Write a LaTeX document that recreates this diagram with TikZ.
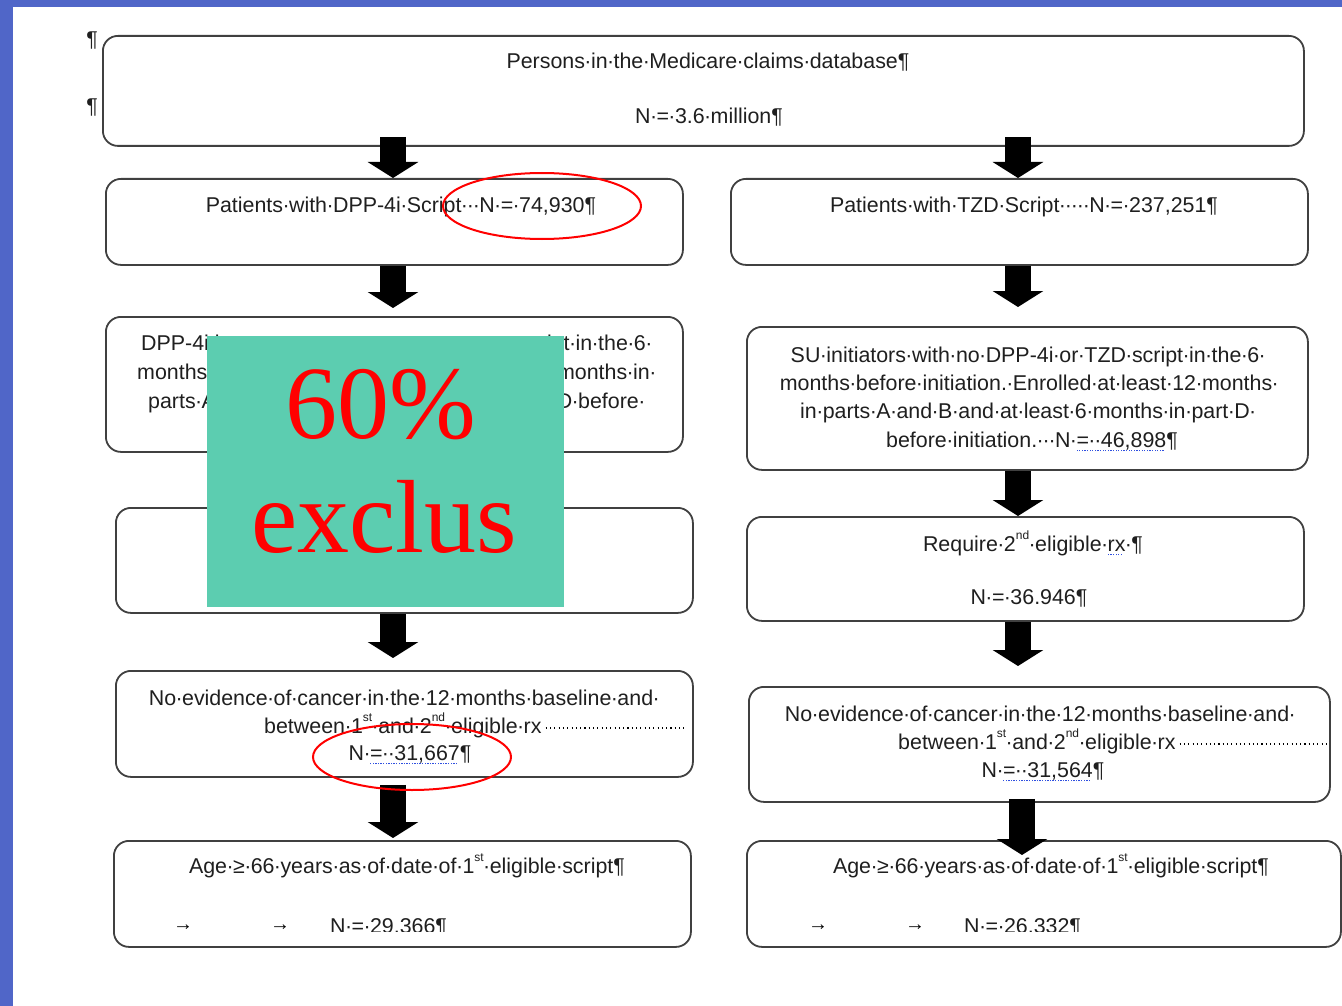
\documentclass[tikz,border=0pt]{standalone}
\usepackage{fontspec}
\setmainfont{Liberation Sans}
\newfontfamily\bigserif{Liberation Serif}
\usetikzlibrary{arrows.meta,shapes.geometric}
\definecolor{frameblue}{HTML}{5066C8}
\definecolor{coverteal}{HTML}{5CCDB0}
\definecolor{boxline}{HTML}{404040}
\definecolor{squiggle}{HTML}{3050E0}
% Word-style space marks: a centred dot in a space-wide box
{\catcode"00B7=13 \gdef·{\makebox[0.278em]{\char"00B7}}}
\AtBeginDocument{\catcode"00B7=13 }
% blue spell-check underline
\newsavebox\spbox
\newcommand\spellmark[1]{\sbox\spbox{#1}\rlap{\color{squiggle}\hbox to \wd\spbox{\leaders\hbox{\rule[-4pt]{1.3pt}{1.3pt}\hskip1.3pt}\hfill}}\usebox\spbox}
% small raised ordinal suffixes
\newcommand\ordsup[1]{\raisebox{0.55em}{\fontsize{12}{12}\selectfont #1}}
\newcommand\sst{\ordsup{st}}
\newcommand\snd{\ordsup{nd}}
\begin{document}
\begin{tikzpicture}[x=1pt, y=-1pt, every node/.style={inner sep=0pt},
  box/.style={draw=boxline, line width=1.8pt, rounded corners=15pt, anchor=north west, fill=white},
  wtxt/.style={anchor=base, font=\fontsize{21.4}{25}\selectfont, text=black!88},
  tabmark/.style={font=\bfseries\fontsize{20}{22}\selectfont, text=black},
  blk/.style={draw=black, line width=26pt, -{Triangle[length=16pt, width=50pt]}},
  ring/.style={ellipse, draw=red, line width=2pt, minimum width=198pt, minimum height=66pt},
  cover/.style={fill=coverteal, anchor=north west},
  bigred/.style={anchor=base, text=red, font=\bigserif\fontsize{104}{110}\selectfont}]
\useasboundingbox (0,0) rectangle (1342,1006);
\fill[white] (0,0) rectangle (1342,1006);
% slide frame
\fill[frameblue] (0,0) rectangle (1342,7);
\fill[frameblue] (0,0) rectangle (13,1006);

% boxes
\node[box, minimum width=1201pt, minimum height=110pt] (top) at (102,35) {};
\node[box, minimum width=577pt, minimum height=86pt] (L1) at (105,178) {};
\node[box, minimum width=577pt, minimum height=86pt] (R1) at (730,178) {};
\node[box, minimum width=577pt, minimum height=135pt] (L2) at (105,316) {};
\node[box, minimum width=561pt, minimum height=143pt] (R2) at (746,326) {};
\node[box, minimum width=577pt, minimum height=105pt] (L3) at (115,507) {};
\node[box, minimum width=557pt, minimum height=104pt] (R3) at (746,516) {};
\node[box, minimum width=577pt, minimum height=106pt] (L4) at (115,670) {};
\node[box, minimum width=581pt, minimum height=115pt] (R4) at (748,686) {};
\node[box, minimum width=577pt, minimum height=106pt] (L5) at (113,840) {};
\node[box, minimum width=594pt, minimum height=106pt] (R5) at (746,840) {};

% texts
\node[wtxt, anchor=base east] (pa) at (98,47) {¶};
\node[wtxt, anchor=base east] (pb) at (98,114) {¶};
\node[wtxt] (topa) at (708,69) {Persons·in·the·Medicare·claims·database¶};
\node[wtxt] (topb) at (709,124) {N·=·3.6·million¶};

\node[wtxt] (L1a) at (401,212) {Patients·with·DPP-4i·Script···N·=·74,930¶};
\node[wtxt] (R1a) at (1024,212) {Patients·with·TZD·Script·····N·=·237,251¶};

% DPP-4i criteria: only the line ends show beside the panel
\node[wtxt, anchor=base west] (L2a) at (141,350) {DPP-4i·in};
\node[wtxt, anchor=base east] (L2d) at (652,350) {script·in·the·6·};
\node[wtxt, anchor=base west] (L2b) at (137,379) {months·be};
\node[wtxt, anchor=base east] (L2e) at (656,379) {12·months·in·};
\node[wtxt, anchor=base west] (L2c) at (148,408) {parts·A·a};
\node[wtxt, anchor=base east] (L2f) at (645,408) {part·D·before·};

\node[wtxt] (R2a) at (1028,362) {SU·initiators·with·no·DPP-4i·or·TZD·script·in·the·6·};
\node[wtxt] (R2b) at (1029,390) {months·before·initiation.·Enrolled·at·least·12·months·};
\node[wtxt] (R2c) at (1028,418) {in·parts·A·and·B·and·at·least·6·months·in·part·D·};
\node[wtxt] (R2d) at (1032,447) {before·initiation.···N·\spellmark{=··46,898}¶};

\node[wtxt] (R3a) at (1033,551) {Require·2\snd·eligible·\spellmark{rx}·¶};
\node[wtxt] (R3b) at (1029,604) {N·=·36.946¶};

\node[wtxt] (L4a) at (404,705) {No·evidence·of·cancer·in·the·12·months·baseline·and·};
\node[wtxt, anchor=base west] (L4b) at (264,733) {between·1\sst·and·2\snd·eligible·rx};
\node[wtxt] (L4c) at (410,760) {N·\spellmark{=··31,667}¶};

\node[wtxt] (R4a) at (1040,721) {No·evidence·of·cancer·in·the·12·months·baseline·and·};
\node[wtxt, anchor=base west] (R4b) at (898,749) {between·1\sst·and·2\snd·eligible·rx};
\node[wtxt] (R4c) at (1043,777) {N·\spellmark{=··31,564}¶};

\draw[line width=1.1pt, dash pattern=on 1.1pt off 3.2pt] ([xshift=4pt,yshift=5pt]L4b.base east) -- ([xshift=-8pt,yshift=5pt]L4b.base east -| L4.east);
\draw[line width=1.1pt, dash pattern=on 1.1pt off 3.2pt] ([xshift=4pt,yshift=5pt]R4b.base east) -- ([xshift=-4pt,yshift=5pt]R4b.base east -| R4.east);

\node[wtxt] (L5a) at (407,873) {Age·≥·66·years·as·of·date·of·1\sst·eligible·script¶};
\node[wtxt] (R5a) at (1051,873) {Age·≥·66·years·as·of·date·of·1\sst·eligible·script¶};

% last lines, cut off at the bottom
\begin{scope}
\clip (0,0) rectangle (1342,931);
\node[tabmark] (L5t1) at (183,928) {→};
\node[tabmark] (L5t2) at (280,928) {→};
\node[wtxt, anchor=base west] (L5b) at (330,933) {N·=·29,366¶};
\node[tabmark] (R5t1) at (818,928) {→};
\node[tabmark] (R5t2) at (915,928) {→};
\node[wtxt, anchor=base west] (R5b) at (964,933) {N·=·26,332¶};
\end{scope}

% block arrows
\coordinate (colL) at (393,0);
\coordinate (colR) at (1018,0);
\coordinate (colRx) at (1022,0);
\draw[blk] ([yshift=10pt]top.south -| colL) -- (L1.north -| colL);
\draw[blk] ([yshift=10pt]top.south -| colR) -- (R1.north -| colR);
\draw[blk] (L1.south -| colL) -- ([yshift=8pt]L2.north -| colL);
\draw[blk] (R1.south -| colR) -- ([yshift=19pt]R2.north -| colR);
\draw[blk] (L2.south -| colL) -- (L3.north -| colL);
\draw[blk] (L3.south -| colL) -- ([yshift=12pt]L4.north -| colL);
\draw[blk] (R2.south -| colR) -- (R3.north -| colR);
\draw[blk] (R3.south -| colR) -- ([yshift=20pt]R4.north -| colR);
\draw[blk] ([yshift=-7pt]L4.south -| colL) -- ([yshift=2pt]L5.north -| colL);
\draw[blk] ([yshift=4pt]R4.south -| colRx) -- ([yshift=-15pt]R5.north -| colRx);

% overlay panel
\node[cover, minimum width=357pt, minimum height=271pt] (panel) at (207,336) {};
\node[bigred] (pct) at (381,438) {60\%};
\node[bigred] (excl) at (384,552) {exclus};

% highlight rings
\node[ring] (ring1) at (542,206) {};
\node[ring] (ring2) at (412,757) {};
\end{tikzpicture}
\end{document}
